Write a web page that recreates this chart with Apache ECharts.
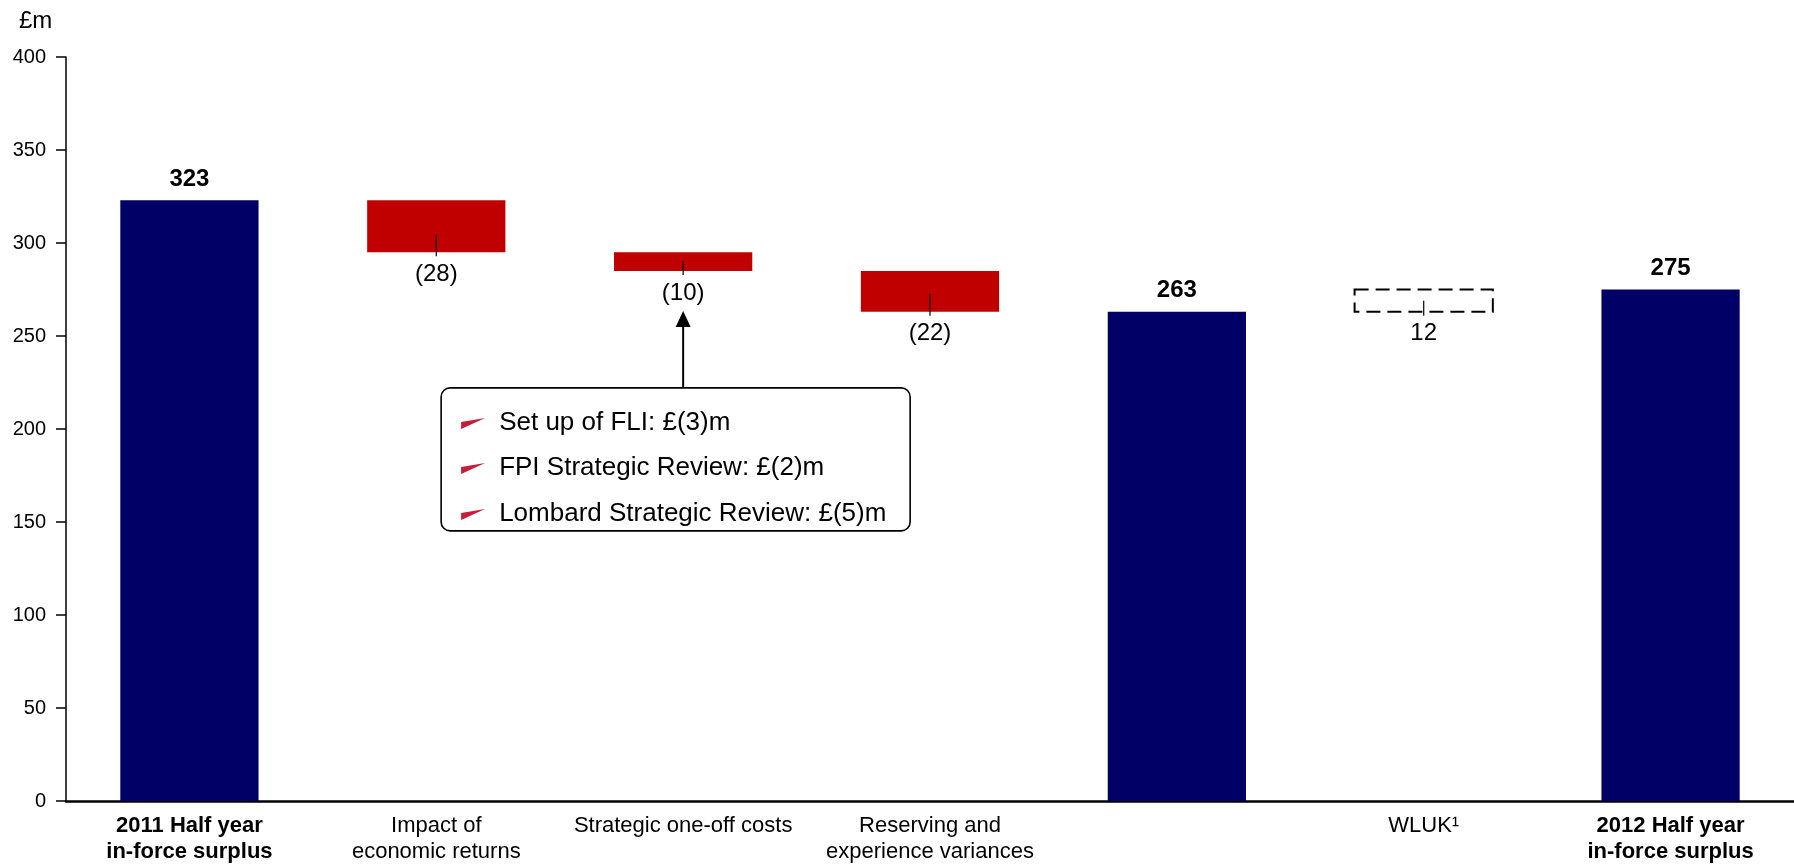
<!DOCTYPE html>
<html>
<head>
<meta charset="utf-8">
<script src="https://cdn.jsdelivr.net/npm/echarts@6/dist/echarts.min.js"></script>
<style>
  html, body { margin: 0; padding: 0; background: #fff; }
  #main { width: 1794px; height: 868px; }
</style>
</head>
<body>
<div id="main"></div>
<script>
var chartDom = document.getElementById('main');
var myChart = echarts.init(chartDom);

var fontName = '"Liberation Sans", Arial, sans-serif';
var navy = '#000066';
var red = '#c00000';

var categories = ['2011 Half year\nin-force surplus', 'Impact of\neconomic returns', 'Strategic one-off costs',
  'Reserving and\nexperience variances', '', 'WLUK¹', '2012 Half year\nin-force surplus'];
var boldCats = [true, false, false, false, false, false, true];
var values = [323, -28, -10, -22, 263, 12, 275];
var kinds = ['total', 'change', 'change', 'change', 'total', 'dashed', 'total'];
var valueLabels = ['323', '(28)', '(10)', '(22)', '263', '12', '275'];
var yTicks = [0, 400, 50];  // min, max, interval

var calloutIndex = 2;
var calloutLines = ['Set up of FLI: £(3)m', 'FPI Strategic Review: £(2)m', 'Lombard Strategic Review: £(5)m'];

// waterfall: [index, low, high]
var wfData = [];
var running = 0;
for (var i = 0; i < values.length; i++) {
  var low, high;
  if (kinds[i] == 'total') {
    low = 0; high = values[i]; running = values[i];
  } else {
    low = Math.min(running, running + values[i]);
    high = Math.max(running, running + values[i]);
    running += values[i];
  }
  wfData.push([i, low, high]);
}

function renderStep(params, api) {
  var i = api.value(0);
  var pLow = api.coord([i, api.value(1)]);
  var pHigh = api.coord([i, api.value(2)]);
  var w = api.size([1, 0])[0] * 0.56;
  var kind = kinds[i];
  var top = pHigh[1], bottom = pLow[1], cx = pLow[0];
  var children = [];
  var shape = {x: cx - w / 2, y: top, width: w, height: bottom - top};

  if (kind == 'dashed') {
    children.push({type: 'rect', shape: shape,
      style: {fill: 'none', stroke: '#000', lineWidth: 2, lineDash: [14, 7]}});
  } else {
    children.push({type: 'rect', shape: shape, style: {fill: kind == 'total' ? navy : red}});
  }

  if (kind == 'total') {
    children.push({type: 'text', style: {text: valueLabels[i], x: cx, y: top - 21,
      align: 'center', verticalAlign: 'middle', fontSize: 24, fontWeight: 'bold',
      fontFamily: fontName, fill: '#000'}});
  } else {
    // little leader tick from inside the bar to the label
    var y1 = Math.max(bottom - 18, (top + bottom) / 2);
    children.push({type: 'line', shape: {x1: cx, y1: y1, x2: cx, y2: bottom + 4},
      style: {stroke: '#000', lineWidth: 1.2}});
    children.push({type: 'text', style: {text: valueLabels[i], x: cx, y: bottom + 22,
      align: 'center', verticalAlign: 'middle', fontSize: 24,
      fontFamily: fontName, fill: '#000'}});
  }
  return {type: 'group', children: children};
}

var option = {
  animation: false,
  title: {
    text: '£m',
    left: 14,
    top: 4,
    textStyle: {fontSize: 24, fontWeight: 'normal', fontFamily: fontName, color: '#000'}
  },
  grid: {left: 66, right: 0, top: 57, bottom: 67},
  xAxis: {
    type: 'category',
    data: categories,
    axisLine: {lineStyle: {color: '#000', width: 2.5}},
    axisTick: {show: false},
    axisLabel: {
      interval: 0,
      margin: 12,
      color: '#000',
      fontSize: 22,
      lineHeight: 26,
      fontFamily: fontName,
      formatter: function (v, idx) {
        if (boldCats[idx]) {
          return v.split('\n').map(function (s) { return '{b|' + s + '}'; }).join('\n');
        }
        return v;
      },
      rich: {
        b: {fontWeight: 'bold', fontSize: 22, lineHeight: 26, fontFamily: fontName, color: '#000'}
      }
    }
  },
  yAxis: {
    type: 'value',
    min: yTicks[0],
    max: yTicks[1],
    interval: yTicks[2],
    axisLine: {show: true, lineStyle: {color: '#000', width: 1.5}},
    axisTick: {show: true, length: 10, lineStyle: {color: '#000', width: 1.5}},
    splitLine: {show: false},
    axisLabel: {color: '#000', fontSize: 20, fontFamily: fontName, margin: 20}
  },
  series: [{
    type: 'custom',
    renderItem: renderStep,
    encode: {x: 0, y: [1, 2]},
    data: wfData
  }]
};

myChart.setOption(option);

// callout box hanging under the one-off costs step
function drawCallout() {
  var anchor = myChart.convertToPixel({gridIndex: 0}, [calloutIndex, wfData[calloutIndex][1]]);
  var cx = anchor[0];
  var tipY = anchor[1] + 40;
  var boxW = 469, boxH = 143;
  var boxLeft = cx - 242, boxTop = tipY + 77;
  var els = [
    {type: 'line', shape: {x1: cx, y1: boxTop, x2: cx, y2: tipY + 12}, style: {stroke: '#000', lineWidth: 2}},
    {type: 'polygon', shape: {points: [[cx, tipY], [cx - 7.5, tipY + 16], [cx + 7.5, tipY + 16]]}, style: {fill: '#000'}},
    {type: 'rect', shape: {x: boxLeft, y: boxTop, width: boxW, height: boxH, r: 9},
      style: {fill: '#fff', stroke: '#000', lineWidth: 1.6}}
  ];
  var offsets = [35, 80, 126];
  for (var k = 0; k < calloutLines.length; k++) {
    var cy = boxTop + offsets[k];
    var bx = boxLeft + 20;
    els.push({type: 'polygon', shape: {points: [[bx, cy + 6], [bx, cy - 1], [bx + 24, cy - 5]]},
      style: {fill: '#c41e3a'}});
    els.push({type: 'text', style: {text: calloutLines[k], x: boxLeft + 58, y: cy,
      verticalAlign: 'middle', fontSize: 26, fontFamily: fontName, fill: '#000'}});
  }
  myChart.setOption({graphic: els});
}
drawCallout();
</script>
</body>
</html>
